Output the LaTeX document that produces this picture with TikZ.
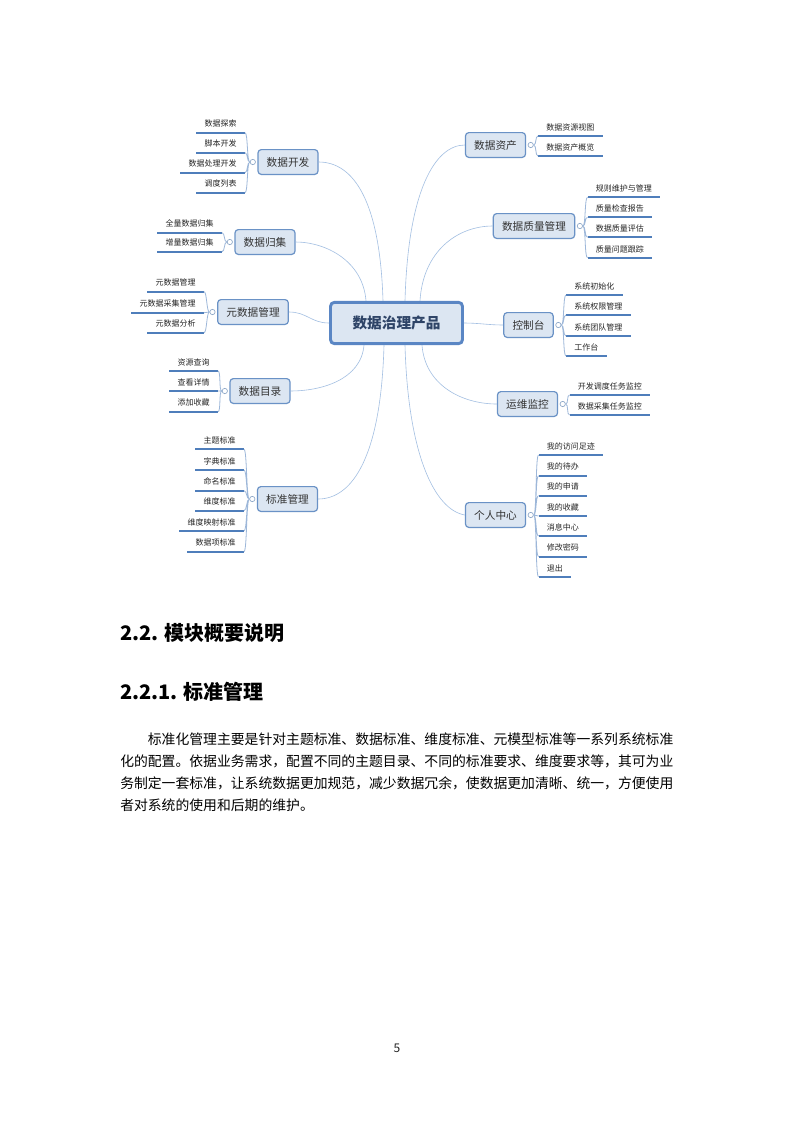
\documentclass[tikz,border=0pt]{standalone}
\usepackage{fontspec}
\setmainfont{Noto Sans CJK SC}
\usetikzlibrary{calc,positioning}

\definecolor{boxfill}{HTML}{DCE6F2}
\definecolor{boxline}{HTML}{6A92C6}
\definecolor{coreline}{HTML}{5A86C4}
\definecolor{coretext}{HTML}{2E4467}
\definecolor{wire}{HTML}{A3BFE2}
\definecolor{twigline}{HTML}{9DB7D9}
\definecolor{leafline}{HTML}{4F7EBB}
\definecolor{knobline}{HTML}{8EA8C8}

\begin{document}
\begin{tikzpicture}[
    x=0.75pt, y=-0.75pt,
    every node/.style={font=\fontsize{6}{7}\selectfont, text=black!85},
    core/.style={
      rectangle, rounded corners=3pt, draw=coreline, line width=2.2pt,
      fill=boxfill, minimum width=99pt, minimum height=31pt,
      font=\fontsize{11}{13}\selectfont\bfseries, text=coretext
    },
    topic/.style={
      rectangle, rounded corners=2.5pt, draw=boxline, line width=0.9pt,
      fill=boxfill, minimum height=18.6pt, inner xsep=6.5pt,
      font=\fontsize{8}{10}\selectfont, text=black!80
    },
    leaf/.style={
      inner xsep=6pt, inner ysep=3.6pt,
      append after command={(\tikzlastnode.south west) edge[uline] (\tikzlastnode.south east)}
    },
    knob/.style={circle, draw=knobline, fill=white, line width=0.5pt, inner sep=0pt, minimum size=4pt},
    branch/.style={draw=wire, line width=0.45pt},
    twig/.style={draw=twigline, line width=0.6pt},
    uline/.style={draw=leafline, line width=1.4pt},
    heading/.style={anchor=west, inner xsep=0pt, font=\fontsize{15}{18}\selectfont\bfseries, text=black},
    para/.style={anchor=north west, inner sep=0pt, align=left, text width=418pt,
      font=\fontsize{10.37}{16.5}\selectfont, text=black}
  ]
    \path[use as bounding box, fill=white] (0,0) rectangle (793,1122);

    % centre and main topics
    \node[core] (core) at (396.5,323) {数据治理产品};

    \node[topic] (kaifa) at (288,162) {数据开发};
    \node[topic] (guiji) at (265,242) {数据归集};
    \node[topic] (meta) at (253,312) {元数据管理};
    \node[topic] (mulu) at (260,391) {数据目录};
    \node[topic] (biaozhun) at (287.5,499) {标准管理};

    \node[topic] (zichan) at (495.5,145) {数据资产};
    \node[topic] (zhiliang) at (534,226) {数据质量管理};
    \node[topic] (kongzhi) at (528.5,325) {控制台};
    \node[topic] (yunwei) at (527.5,404) {运维监控};
    \node[topic] (geren) at (495.5,515) {个人中心};

    \node[knob, left=1.2pt of kaifa] (kaifak) {};
    \node[knob, left=1.2pt of guiji] (guijik) {};
    \node[knob, left=1.2pt of meta] (metak) {};
    \node[knob, left=1.2pt of mulu] (muluk) {};
    \node[knob, left=1.2pt of biaozhun] (biaozhunk) {};
    \node[knob, right=1.2pt of zichan] (zichank) {};
    \node[knob, right=1.2pt of zhiliang] (zhiliangk) {};
    \node[knob, right=1.2pt of kongzhi] (kongzhik) {};
    \node[knob, right=1.2pt of yunwei] (yunweik) {};
    \node[knob, right=1.2pt of geren] (gerenk) {};

    % left leaves
    \node[leaf, anchor=south east] (kaifa1) at (245,132.7) {数据探索};
    \node[leaf, anchor=south east] (kaifa2) at (245,152.7) {脚本开发};
    \node[leaf, anchor=south east] (kaifa3) at (245,172.7) {数据处理开发};
    \node[leaf, anchor=south east] (kaifa4) at (245,192.7) {调度列表};

    \node[leaf, anchor=south east] (guiji1) at (222,232.7) {全量数据归集};
    \node[leaf, anchor=south east] (guiji2) at (222,251.7) {增量数据归集};

    \node[leaf, anchor=south east] (meta1) at (204,291.7) {元数据管理};
    \node[leaf, anchor=south east] (meta2) at (204,312.7) {元数据采集管理};
    \node[leaf, anchor=south east] (meta3) at (204,332.7) {元数据分析};

    \node[leaf, anchor=south east] (mulu1) at (218,371) {资源查询};
    \node[leaf, anchor=south east] (mulu2) at (218,391) {查看详情};
    \node[leaf, anchor=south east] (mulu3) at (218,411.7) {添加收藏};

    \node[leaf, anchor=south east] (biaozhun1) at (244,449.3) {主题标准};
    \node[leaf, anchor=south east] (biaozhun2) at (244,470) {字典标准};
    \node[leaf, anchor=south east] (biaozhun3) at (244,490.7) {命名标准};
    \node[leaf, anchor=south east] (biaozhun4) at (244,510.7) {维度标准};
    \node[leaf, anchor=south east] (biaozhun5) at (244,531) {维度映射标准};
    \node[leaf, anchor=south east] (biaozhun6) at (244,551.7) {数据项标准};

    % right leaves
    \node[leaf, anchor=south west] (zichan1) at (538,136) {数据资源视图};
    \node[leaf, anchor=south west] (zichan2) at (538,156) {数据资产概览};

    \node[leaf, anchor=south west] (zhiliang1) at (587.5,197.3) {规则维护与管理};
    \node[leaf, anchor=south west] (zhiliang2) at (587.5,217.3) {质量检查报告};
    \node[leaf, anchor=south west] (zhiliang3) at (587.5,237.3) {数据质量评估};
    \node[leaf, anchor=south west] (zhiliang4) at (587.5,257.7) {质量问题跟踪};

    \node[leaf, anchor=south west] (kongzhi1) at (566,295) {系统初始化};
    \node[leaf, anchor=south west] (kongzhi2) at (566,315) {系统权限管理};
    \node[leaf, anchor=south west] (kongzhi3) at (566,336) {系统团队管理};
    \node[leaf, anchor=south west] (kongzhi4) at (566,356) {工作台};

    \node[leaf, anchor=south west] (yunwei1) at (569.5,395) {开发调度任务监控};
    \node[leaf, anchor=south west] (yunwei2) at (569.5,415) {数据采集任务监控};

    \node[leaf, anchor=south west] (geren1) at (538.5,455) {我的访问足迹};
    \node[leaf, anchor=south west] (geren2) at (538.5,475.7) {我的待办};
    \node[leaf, anchor=south west] (geren3) at (538.5,495.7) {我的申请};
    \node[leaf, anchor=south west] (geren4) at (538.5,516) {我的收藏};
    \node[leaf, anchor=south west] (geren5) at (538.5,536) {消息中心};
    \node[leaf, anchor=south west] (geren6) at (538.5,556.7) {修改密码};
    \node[leaf, anchor=south west] (geren7) at (538.5,576.7) {退出};

    % centre to topics
    \draw[branch] ($(core.north)+(-13.5,0)$) .. controls +(-3,-100) and +(35,0) .. (kaifa.east);
    \draw[branch] ($(core.north)+(-30.5,0)$) .. controls +(-3,-40) and +(30,0) .. (guiji.east);
    \draw[branch] (core.west) .. controls +(-18,0) and +(18,0) .. (meta.east);
    \draw[branch] ($(core.south)+(-32.5,0)$) .. controls +(-3,35) and +(30,0) .. (mulu.east);
    \draw[branch] ($(core.south)+(-12.5,0)$) .. controls +(-3,110) and +(35,0) .. (biaozhun.east);
    \draw[branch] ($(core.north)+(8.5,0)$) .. controls +(3,-110) and +(-30,0) .. (zichan.west);
    \draw[branch] ($(core.north)+(23.5,0)$) .. controls +(3,-50) and +(-35,0) .. (zhiliang.west);
    \draw[branch] (core.east) .. controls +(15,0) and +(-15,0) .. (kongzhi.west);
    \draw[branch] ($(core.south)+(25.5,0)$) .. controls +(3,40) and +(-35,0) .. (yunwei.west);
    \draw[branch] ($(core.south)+(8.5,0)$) .. controls +(3,110) and +(-30,-5) .. (geren.west);

    % topics to leaves
    \draw[twig] (kaifak.west) .. controls +(-3,0) and +(3,0) .. (kaifa1.south east)
      (kaifak.west) .. controls +(-3,0) and +(3,0) .. (kaifa2.south east)
      (kaifak.west) .. controls +(-3,0) and +(3,0) .. (kaifa3.south east)
      (kaifak.west) .. controls +(-3,0) and +(3,0) .. (kaifa4.south east);
    \draw[twig] (guijik.west) .. controls +(-3,0) and +(3,0) .. (guiji1.south east)
      (guijik.west) .. controls +(-3,0) and +(3,0) .. (guiji2.south east);
    \draw[twig] (metak.west) .. controls +(-3,0) and +(3,0) .. (meta1.south east)
      (metak.west) .. controls +(-3,0) and +(3,0) .. (meta2.south east)
      (metak.west) .. controls +(-3,0) and +(3,0) .. (meta3.south east);
    \draw[twig] (muluk.west) .. controls +(-3,0) and +(3,0) .. (mulu1.south east)
      (muluk.west) .. controls +(-3,0) and +(3,0) .. (mulu2.south east)
      (muluk.west) .. controls +(-3,0) and +(3,0) .. (mulu3.south east);
    \draw[twig] (biaozhunk.west) .. controls +(-3,0) and +(3,0) .. (biaozhun1.south east)
      (biaozhunk.west) .. controls +(-3,0) and +(3,0) .. (biaozhun2.south east)
      (biaozhunk.west) .. controls +(-3,0) and +(3,0) .. (biaozhun3.south east)
      (biaozhunk.west) .. controls +(-3,0) and +(3,0) .. (biaozhun4.south east)
      (biaozhunk.west) .. controls +(-3,0) and +(3,0) .. (biaozhun5.south east)
      (biaozhunk.west) .. controls +(-3,0) and +(3,0) .. (biaozhun6.south east);
    \draw[twig] (zichank.east) .. controls +(3,0) and +(-3,0) .. (zichan1.south west)
      (zichank.east) .. controls +(3,0) and +(-3,0) .. (zichan2.south west);
    \draw[twig] (zhiliangk.east) .. controls +(3,0) and +(-3,0) .. (zhiliang1.south west)
      (zhiliangk.east) .. controls +(3,0) and +(-3,0) .. (zhiliang2.south west)
      (zhiliangk.east) .. controls +(3,0) and +(-3,0) .. (zhiliang3.south west)
      (zhiliangk.east) .. controls +(3,0) and +(-3,0) .. (zhiliang4.south west);
    \draw[twig] (kongzhik.east) .. controls +(3,0) and +(-3,0) .. (kongzhi1.south west)
      (kongzhik.east) .. controls +(3,0) and +(-3,0) .. (kongzhi2.south west)
      (kongzhik.east) .. controls +(3,0) and +(-3,0) .. (kongzhi3.south west)
      (kongzhik.east) .. controls +(3,0) and +(-3,0) .. (kongzhi4.south west);
    \draw[twig] (yunweik.east) .. controls +(3,0) and +(-3,0) .. (yunwei1.south west)
      (yunweik.east) .. controls +(3,0) and +(-3,0) .. (yunwei2.south west);
    \draw[twig] (gerenk.east) .. controls +(3,0) and +(-3,0) .. (geren1.south west)
      (gerenk.east) .. controls +(3,0) and +(-3,0) .. (geren2.south west)
      (gerenk.east) .. controls +(3,0) and +(-3,0) .. (geren3.south west)
      (gerenk.east) .. controls +(3,0) and +(-3,0) .. (geren4.south west)
      (gerenk.east) .. controls +(3,0) and +(-3,0) .. (geren5.south west)
      (gerenk.east) .. controls +(3,0) and +(-3,0) .. (geren6.south west)
      (gerenk.east) .. controls +(3,0) and +(-3,0) .. (geren7.south west);

    % text below the map
    \node[heading] (sec) at (120,633) {2.2. 模块概要说明};
    \node[heading] (subsec) at (120,692) {2.2.1. 标准管理};
    \node[para] (body) at (120,733) {\hspace*{2em}标准化管理主要是针对主题标准、数据标准、维度标准、元模型标准等一系列系统标准\\
      化的配置。依据业务需求，配置不同的主题目录、不同的标准要求、维度要求等，其可为业\\
      务制定一套标准，让系统数据更加规范，减少数据冗余，使数据更加清晰、统一，方便使用\\
      者对系统的使用和后期的维护。};
    \node[font=\fontsize{9}{10}\selectfont] (pageno) at (397,1048) {5};
  \end{tikzpicture}
\end{document}
